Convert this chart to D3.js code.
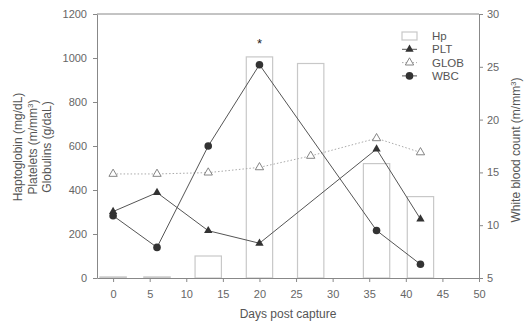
<!DOCTYPE html>
<html>
<head>
<meta charset="utf-8">
<script src="https://cdn.jsdelivr.net/npm/d3@7"></script>
<style>
  body { margin: 0; background: #fff; }
  svg text { font-family: "Liberation Sans", Arial, sans-serif; fill: #555; }
</style>
</head>
<body>
<svg id="chart" width="530" height="323"></svg>
<script>
// days sampled
var hpDays = [0, 6, 13, 20, 27, 36, 42];
var hpValues = [5, 5, 100, 1005, 975, 520, 370];

var pltDays = [0, 6, 13, 20, 36, 42];
var pltValues = [302, 388, 215, 158, 586, 268];

var globDays = [0, 6, 13, 20, 27, 36, 42];
var globValues = [473, 473, 479, 503, 555, 635, 571];

var wbcDays = [0, 6, 13, 20, 36, 42];
var wbcValues = [10.9, 7.9, 17.5, 25.2, 9.5, 6.3];

var xTicks = [0, 5, 10, 15, 20, 25, 30, 35, 40, 45, 50];
var leftTicks = [0, 200, 400, 600, 800, 1000, 1200];
var rightTicks = [5, 10, 15, 20, 25, 30];
var legendLabels = ["Hp", "PLT", "GLOB", "WBC"];

var LEFT = 97, RIGHT = 479, TOP = 14, BOTTOM = 278;
var BAR_DAYS = 3.6;
var AXIS = "#888", LINE = "#555", BAR = "#c8c8c8";

var svg = d3.select("#chart");

var x = d3.scaleLinear().domain([-2.2, 50]).range([LEFT, RIGHT]);
var yL = d3.scaleLinear().domain([0, 1200]).range([BOTTOM, TOP]);
var yR = d3.scaleLinear().domain([5, 30]).range([BOTTOM, TOP]);

// bars first so lines sit on top
svg.append("g").selectAll("rect").data(hpDays).enter().append("rect")
    .attr("x", function(d) { return x(d - BAR_DAYS / 2); })
    .attr("width", function(d) { return x(BAR_DAYS) - x(0); })
    .attr("y", function(d, i) { return yL(hpValues[i]); })
    .attr("height", function(d, i) { return BOTTOM - yL(hpValues[i]); })
    .style("fill", "#fff")
    .style("stroke", BAR)
    .style("stroke-width", 1.2);

// frame top line
svg.append("line")
    .attr("x1", LEFT).attr("x2", RIGHT).attr("y1", TOP).attr("y2", TOP)
    .style("stroke", AXIS);

function styleAxis(g) {
    g.selectAll("path, line").style("stroke", AXIS);
    g.selectAll("text").style("font-size", "11px").style("fill", "#666")
        .style("font-family", "Liberation Sans, Arial, sans-serif");
}

svg.append("g").attr("transform", "translate(0," + BOTTOM + ")")
    .call(d3.axisBottom(x).tickValues(xTicks).tickSize(4).tickSizeOuter(0).tickPadding(8))
    .call(styleAxis);

svg.append("g").attr("transform", "translate(" + LEFT + ",0)")
    .call(d3.axisLeft(yL).tickValues(leftTicks).tickFormat(d3.format("d"))
        .tickSize(4).tickSizeOuter(0).tickPadding(6))
    .call(styleAxis);

svg.append("g").attr("transform", "translate(" + RIGHT + ",0)")
    .call(d3.axisRight(yR).tickValues(rightTicks).tickSize(4).tickSizeOuter(0).tickPadding(4))
    .call(styleAxis);

// lines
var lineL = function(days) {
    return d3.line().x(function(d, i) { return x(days[i]); }).y(function(d) { return yL(d); });
};

svg.append("path").datum(globValues).attr("d", lineL(globDays))
    .style("fill", "none").style("stroke", "#aaa").style("stroke-width", 1)
    .style("stroke-dasharray", "1.5,2");

svg.append("path").datum(pltValues).attr("d", lineL(pltDays))
    .style("fill", "none").style("stroke", LINE).style("stroke-width", 1);

svg.append("path").datum(wbcValues)
    .attr("d", d3.line().x(function(d, i) { return x(wbcDays[i]); }).y(function(d) { return yR(d); }))
    .style("fill", "none").style("stroke", LINE).style("stroke-width", 1);

var tri = d3.symbol().type(d3.symbolTriangle).size(30);

svg.append("g").selectAll("path").data(globValues).enter().append("path")
    .attr("d", tri)
    .attr("transform", function(d, i) { return "translate(" + x(globDays[i]) + "," + yL(d) + ")"; })
    .style("fill", "#fff").style("stroke", "#777").style("stroke-width", 0.9);

svg.append("g").selectAll("path").data(pltValues).enter().append("path")
    .attr("d", tri)
    .attr("transform", function(d, i) { return "translate(" + x(pltDays[i]) + "," + yL(d) + ")"; })
    .style("fill", "#333");

svg.append("g").selectAll("circle").data(wbcValues).enter().append("circle")
    .attr("cx", function(d, i) { return x(wbcDays[i]); })
    .attr("cy", function(d) { return yR(d); })
    .attr("r", 3.8)
    .style("fill", "#333");

// significance mark
svg.append("text").attr("x", x(20)).attr("y", 48)
    .attr("text-anchor", "middle").style("font-size", "13px").style("fill", "#222")
    .text("*");

// x title
svg.append("text").attr("x", (LEFT + RIGHT) / 2).attr("y", 318)
    .attr("text-anchor", "middle").style("font-size", "12px")
    .text("Days post capture");

// left titles, three rotated lines
var leftTitle = svg.append("text")
    .attr("transform", "translate(22,147) rotate(-90)")
    .attr("text-anchor", "middle")
    .style("font-size", "12px");
leftTitle.append("tspan").attr("x", 0).attr("dy", 0).text("Haptoglobin (mg/dL)");
var l2 = leftTitle.append("tspan").attr("x", 0).attr("dy", 14.5);
l2.append("tspan").text("Platelets (m/mm");
l2.append("tspan").attr("dy", -4).style("font-size", "8px").text("3");
l2.append("tspan").attr("dy", 4).text(")");
leftTitle.append("tspan").attr("x", 0).attr("dy", 14.5).text("Globulins (g/daL)");

// right title
var rightTitle = svg.append("text")
    .attr("transform", "translate(520,150) rotate(-90)")
    .attr("text-anchor", "middle")
    .style("font-size", "12px");
rightTitle.append("tspan").text("White blood count (m/mm");
rightTitle.append("tspan").attr("dy", -4).style("font-size", "8px").text("3");
rightTitle.append("tspan").attr("dy", 4).text(")");

// legend
var lg = svg.append("g").attr("transform", "translate(402,36)");
var rowH = 13.3;
lg.append("rect").attr("x", 0).attr("y", -4).attr("width", 15).attr("height", 8)
    .style("fill", "#fff").style("stroke", BAR).style("stroke-width", 1.2);

lg.append("line").attr("x1", 0).attr("x2", 15).attr("y1", rowH).attr("y2", rowH)
    .style("stroke", LINE);
lg.append("path").attr("d", tri).attr("transform", "translate(7.5," + rowH + ")")
    .style("fill", "#333");

lg.append("line").attr("x1", 0).attr("x2", 15).attr("y1", 2 * rowH).attr("y2", 2 * rowH)
    .style("stroke", "#aaa").style("stroke-dasharray", "1.5,2");
lg.append("path").attr("d", tri).attr("transform", "translate(7.5," + 2 * rowH + ")")
    .style("fill", "#fff").style("stroke", "#777").style("stroke-width", 0.9);

lg.append("line").attr("x1", 0).attr("x2", 15).attr("y1", 3 * rowH).attr("y2", 3 * rowH)
    .style("stroke", LINE);
lg.append("circle").attr("cx", 7.5).attr("cy", 3 * rowH).attr("r", 3.8).style("fill", "#333");

lg.selectAll("text.lab").data(legendLabels).enter().append("text")
    .attr("class", "lab")
    .attr("x", 30)
    .attr("y", function(d, i) { return i * rowH + 4; })
    .style("font-size", "11.5px")
    .text(function(d) { return d; });
</script>
</body>
</html>
